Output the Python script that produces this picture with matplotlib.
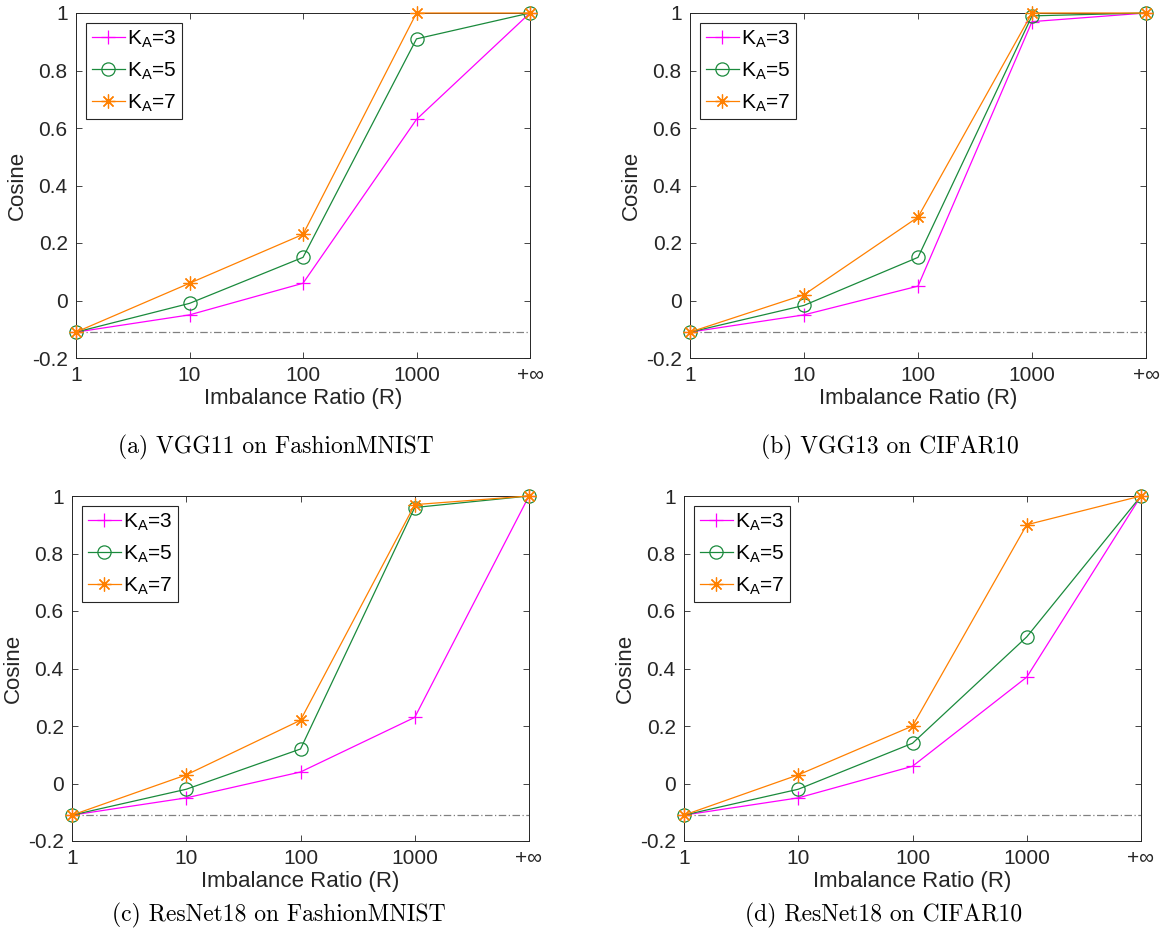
import numpy as np
import matplotlib
matplotlib.use('Agg')
import matplotlib.pyplot as plt

# x positions stand for imbalance ratio 1, 10, 100, 1000, +inf
ratio_labels = ['1', '10', '100', '1000', '+\u221e']
ka_labels = [r'K$_{\mathregular{A}}$=3', r'K$_{\mathregular{A}}$=5', r'K$_{\mathregular{A}}$=7']
baseline = -1 / 9

# (a) VGG11 on FashionMNIST
vgg11_k3 = [-0.11, -0.05, 0.06, 0.63, 1.0]
vgg11_k5 = [-0.11, -0.01, 0.15, 0.91, 1.0]
vgg11_k7 = [-0.11, 0.06, 0.23, 1.0, 1.0]
# (b) VGG13 on CIFAR10
vgg13_k3 = [-0.11, -0.05, 0.05, 0.97, 1.0]
vgg13_k5 = [-0.11, -0.017, 0.15, 0.99, 1.0]
vgg13_k7 = [-0.11, 0.02, 0.29, 1.0, 1.0]
# (c) ResNet18 on FashionMNIST
res_fm_k3 = [-0.11, -0.05, 0.04, 0.23, 1.0]
res_fm_k5 = [-0.11, -0.02, 0.12, 0.96, 1.0]
res_fm_k7 = [-0.11, 0.03, 0.22, 0.97, 1.0]
# (d) ResNet18 on CIFAR10
res_c10_k3 = [-0.11, -0.05, 0.06, 0.37, 1.0]
res_c10_k5 = [-0.11, -0.02, 0.14, 0.51, 1.0]
res_c10_k7 = [-0.11, 0.03, 0.20, 0.90, 1.0]

captions = ['(a) VGG11 on FashionMNIST', '(b) VGG13 on CIFAR10',
            '(c) ResNet18 on FashionMNIST', '(d) ResNet18 on CIFAR10']
panels = [(vgg11_k3, vgg11_k5, vgg11_k7), (vgg13_k3, vgg13_k5, vgg13_k7),
          (res_fm_k3, res_fm_k5, res_fm_k7), (res_c10_k3, res_c10_k5, res_c10_k7)]

plt.rcParams['font.family'] = ['Liberation Sans', 'DejaVu Sans']

W, H = 1162, 943
fig = plt.figure(figsize=(W / 100, H / 100), dpi=100)

# axes boxes in pixels: left, right, top, bottom
boxes = [(76, 530, 13, 358), (690, 1146, 13, 358),
         (72, 529, 496, 841), (684, 1141, 496, 841)]
cap_pos = [(276, 447), (890, 447), (279, 915), (884, 915)]

dark = '#262626'
colors = ['#ff00ff', '#1a8a3c', '#ff8000']
markers = ['+', 'o', (8, 2, 0)]
msizes = [10, 9.5, 10]

x = np.arange(len(ratio_labels))
for i, (series, box) in enumerate(zip(panels, boxes)):
    l, r, t, b = box
    ax = fig.add_axes([l / W, 1 - b / H, (r - l) / W, (b - t) / H])
    ax.axhline(baseline, color='#808080', lw=0.9, ls='-.', dashes=(6, 2, 1, 2), zorder=1)
    for ys, c, m, ms, lab in zip(series, colors, markers, msizes, ka_labels):
        ax.plot(x, ys, color=c, marker=m, ms=ms, mfc='none', mew=0.9, lw=0.9,
                label=lab, clip_on=False, zorder=3)
    ax.set_xlim(0, 4)
    ax.set_ylim(-0.2, 1)
    ax.set_xticks(x)
    ax.set_xticklabels(ratio_labels)
    ax.set_yticks([-0.2, 0, 0.2, 0.4, 0.6, 0.8, 1])
    ax.set_yticklabels(['-0.2', '0', '0.2', '0.4', '0.6', '0.8', '1'])
    ax.tick_params(direction='in', top=True, right=True, length=4, width=0.6,
                   colors=dark, labelsize=15, pad=6)
    for s in ax.spines.values():
        s.set_color(dark)
        s.set_linewidth(0.7)
    ax.set_xlabel('Imbalance Ratio (R)', fontsize=16, color=dark, labelpad=2)
    ax.set_ylabel('Cosine', fontsize=16, color=dark, labelpad=3)
    leg = ax.legend(loc='upper left', fontsize=15, fancybox=False, framealpha=1,
                    edgecolor=dark, handlelength=1.6, handletextpad=0.1,
                    borderpad=0.25, labelspacing=0.5, borderaxespad=0.5)
    leg.get_frame().set_linewidth(0.8)
    cx, cy = cap_pos[i]
    fig.text(cx / W, 1 - cy / H, captions[i], ha='center', va='center',
             fontsize=17, family='cmr10')

fig.savefig('out.png', dpi=100)
